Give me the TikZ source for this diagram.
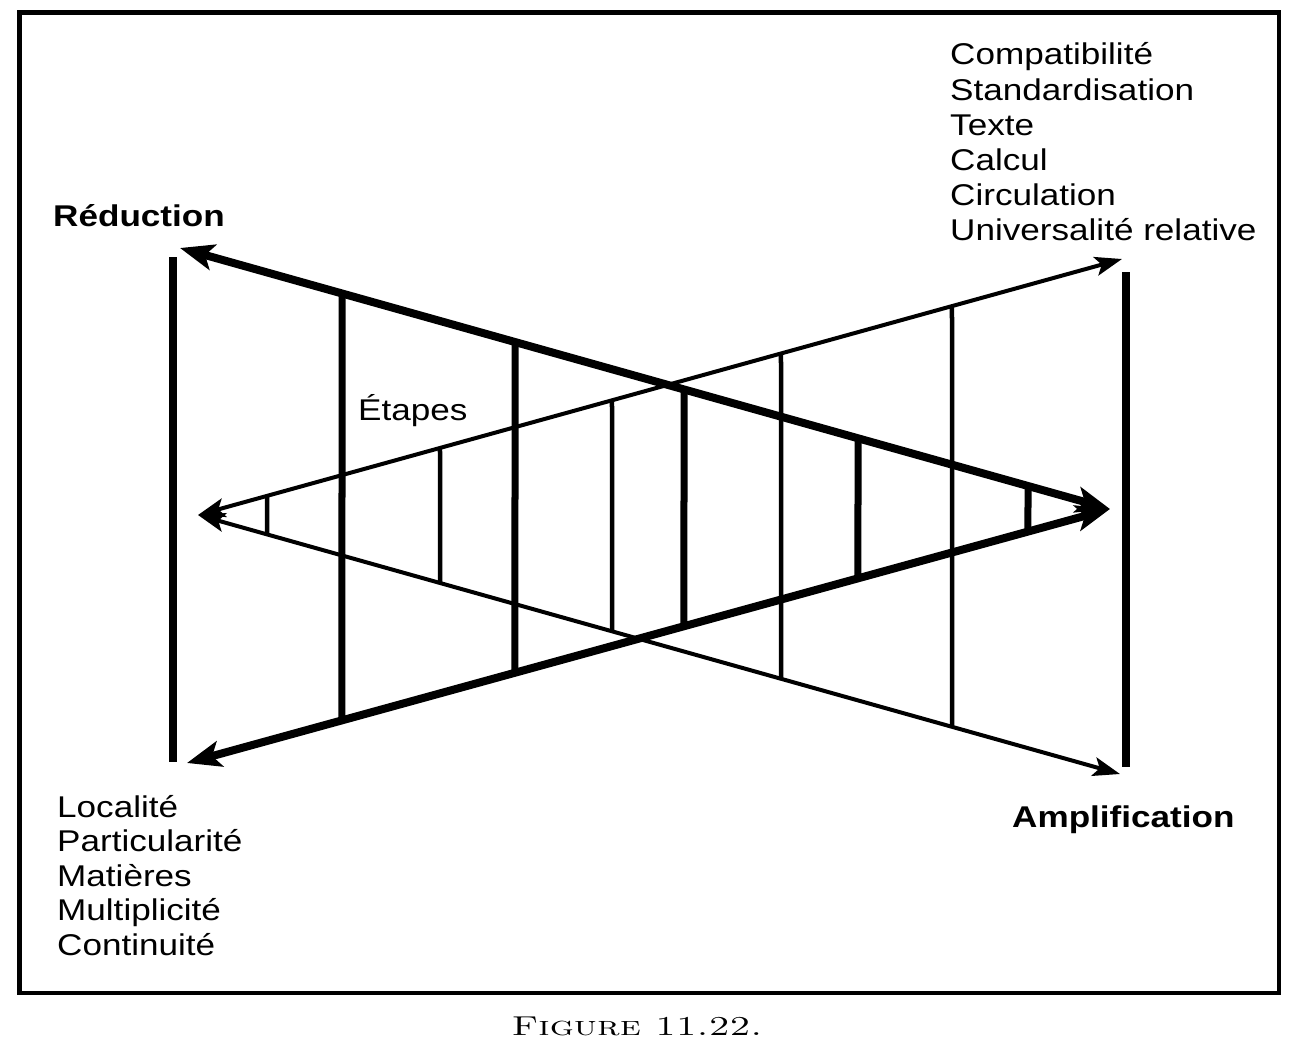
\documentclass[tikz,border=0pt]{standalone}
\usepackage{fontspec}
\newfontfamily\hv[FakeStretch=1.17]{Liberation Sans}
\usetikzlibrary{arrows.meta}
\tikzset{
  bigtip/.tip={Stealth[length=34pt,width=26pt,inset=8pt]},
  smalltip/.tip={Stealth[length=27pt,width=19pt,inset=6pt]},
  thickln/.style={line width=8pt,{bigtip}-{bigtip}},
  thinln/.style={line width=4pt,{smalltip}-{smalltip}},
  thickbar/.style={line width=7pt},
  thinbar/.style={line width=4.5pt},
  bigbar/.style={line width=8pt},
  frame/.style={line width=4.5pt},
  lbl/.style={inner sep=0pt,anchor=base west,font=\hv\fontsize{30}{35.2}\selectfont},
  lblb/.style={lbl,font=\hv\bfseries\fontsize{30}{35.2}\selectfont},
  caption/.style={inner sep=0pt,anchor=base,font=\fontsize{26}{30}\selectfont},
}
\begin{document}
\begin{tikzpicture}[x=1pt,y=-1pt]
\useasboundingbox (0,0) rectangle (1303,1062);
\draw[frame] (19.5,12.5) rectangle (1279,993);

% end points
\coordinate (TL) at (180,248);
\coordinate (BL) at (187,763);
\coordinate (TA) at (1110,509);
\coordinate (LA) at (198,515);
\coordinate (TR) at (1122,259);
\coordinate (BR) at (1120,774);
\coordinate (LBt) at (173,257);
\coordinate (LBb) at (173,762);
\coordinate (RBt) at (1126,272);
\coordinate (RBb) at (1126,767);

% outer bars
\draw[bigbar] (LBt) -- (LBb);
\draw[bigbar] (RBt) -- (RBb);

% rungs
\foreach \x in {342,515,684,858,1028}
  \draw[thickbar] (intersection cs: first line={(TL)--(TA)}, second line={(\x,0)--(\x,100)})
    -- (intersection cs: first line={(BL)--(TA)}, second line={(\x,0)--(\x,100)});
\foreach \x in {267,440,612,781,952}
  \draw[thinbar] (intersection cs: first line={(LA)--(TR)}, second line={(\x,0)--(\x,100)})
    -- (intersection cs: first line={(LA)--(BR)}, second line={(\x,0)--(\x,100)});

% arrows
\draw[thickln] (TL) -- (TA);
\draw[thickln] (BL) -- (TA);
\draw[thinln] (LA) -- (TR);
\draw[thinln] (LA) -- (BR);

% labels
\node[lblb] (red) at (53,226) {Réduction};
\node[lblb] (amp) at (1012,827) {Amplification};
\node[lbl] (eta) at (358,420) {Étapes};
\node[lbl] (rlist) at (950,65) {\vtop{\hbox{Compatibilité}\hbox{Standardisation}\hbox{Texte}\hbox{Calcul}\hbox{Circulation}\hbox{Universalité relative}}};
\node[lbl,font=\hv\fontsize{30}{34.6}\selectfont] (llist) at (57,817) {\vtop{\hbox{Localité}\hbox{Particularité}\hbox{Matières}\hbox{Multiplicité}\hbox{Continuité}}};
\node[caption] (cap) at (637,1035) {\scalebox{1.45}[1.05]{\textsc{Figure 11.22.}}};
\end{tikzpicture}
\end{document}
